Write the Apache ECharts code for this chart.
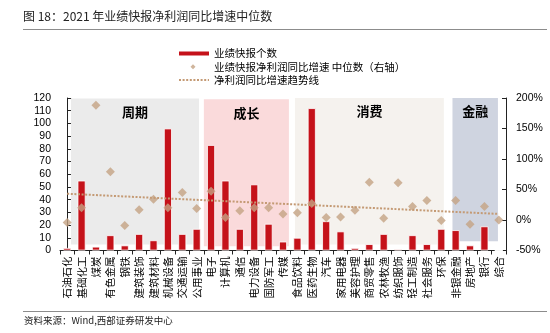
<!DOCTYPE html>
<html><head><meta charset="utf-8">
<script src="https://cdn.jsdelivr.net/npm/echarts@6/dist/echarts.min.js"></script>
<style>html,body{margin:0;padding:0;background:#fff}#c{width:550px;height:333px}</style>
</head><body><div id="c"></div>
<script>
const categories = ['石油石化','基础化工','煤炭','有色金属','钢铁','建筑装饰','建筑材料','机械设备','交通运输','公用事业','电子','计算机','通信','电力设备','国防军工','传媒','食品饮料','医药生物','汽车','家用电器','美容护理','商贸零售','农林牧渔','纺织服饰','轻工制造','社会服务','环保','非银金融','房地产','银行','综合'];
const counts = [2,55,3,12,4,13,8,96,13,17,83,55,17,52,21,7,10,112,23,15,2,5,13,1,12,5,17,16,4,19,0];
const medians = [-4,20,188,79,-9,17,34,20,45,19,47,4,15,20,20,10,12,27,4,5,16,62,3,61,22,32,-1,32,-7,22,0];
const trend = [[0,43],[30,10]];
const leftTicks = {min:0,max:120,interval:10};
const rightTicks = {min:-50,max:200,interval:50};
const bandNames = ['周期','成长','消费','金融'];
const bandX = [[0.26,9.16],[9.5,15.41],[15.83,26.18],[26.78,29.94]];
const bandY = [[-40,199],[-43,198],[-40,200],[-35,203]];
const bandColors = ['#ebebeb','#fadadb','#f5f2ee','rgba(0,26,92,0.19)'];

const seriesNames = ['业绩快报个数','业绩快报净利润同比增速 中位数（右轴）','净利润同比增速趋势线'];
const CJK = '"Noto Sans CJK SC","Noto Sans",sans-serif';

function band(i){
  return [{
    name: bandNames[i], xAxis: bandX[i][0], yAxis: bandY[i][0],
    itemStyle:{color: bandColors[i]},
    label:{show:true, position:'insideTop', distance:7, formatter: bandNames[i], color:'#000', fontSize:13, fontWeight:'bold', fontFamily:CJK}
  },{xAxis: bandX[i][1], yAxis: bandY[i][1]}];
}

const chart = echarts.init(document.getElementById('c'), null, {renderer:'canvas'});
chart.setOption({
  animation:false,
  backgroundColor:'#fff',
  graphic:[
    {type:'text', left:23, top:10, style:{text:'图 18：2021 年业绩快报净利润同比增速中位数', font:'12px '+CJK, fill:'#222'}},
    {type:'line', shape:{x1:23,y1:29.5,x2:547,y2:29.5}, style:{stroke:'#8c8c8c', lineWidth:1}},
    {type:'line', shape:{x1:23,y1:311.5,x2:547,y2:311.5}, style:{stroke:'#8c8c8c', lineWidth:1}},
    {type:'text', left:24, top:316, style:{text:'资料来源：Wind,西部证券研发中心', font:'9.5px '+CJK, fill:'#222'}}
  ],
  legend:{
    orient:'vertical', left:173, top:42.5, itemWidth:30, itemHeight:6, itemGap:1.2,
    textStyle:{fontSize:10.5, fontFamily:CJK, color:'#000', lineHeight:12},
    data:[
      {name:seriesNames[0], icon:'path://M0,0H30V4H0Z', itemStyle:{borderWidth:0}},
      {name:seriesNames[1], icon:'path://M0,0L0,0Z M30,6L30,6Z M14,0.5L16.5,3L14,5.5L11.5,3Z'},
      {name:seriesNames[2], itemStyle:{opacity:0}}
    ]
  },
  grid:{left:60, right:44, top:98, bottom:82.5, containLabel:false},
  xAxis:[{
    type:'category', data:categories, boundaryGap:true,
    axisLine:{lineStyle:{color:'#222', width:1}},
    axisTick:{show:true, inside:false, length:4, lineStyle:{color:'#222'}},
    axisLabel:{rotate:90, interval:0, fontSize:10.5, fontFamily:CJK, color:'#000', margin:6}
  },{
    type:'value', min:-0.5, max:30.5, show:false
  }],
  yAxis:[{
    type:'value', min:leftTicks.min, max:leftTicks.max, interval:leftTicks.interval,
    splitLine:{show:false},
    axisLine:{show:true, lineStyle:{color:'#222'}},
    axisTick:{show:true, inside:true, length:4, lineStyle:{color:'#222'}},
    axisLabel:{fontSize:10.5, fontFamily:'"Liberation Sans",Arial,sans-serif', color:'#000', margin:9}
  },{
    type:'value', min:rightTicks.min, max:rightTicks.max, interval:rightTicks.interval, position:'right',
    splitLine:{show:false},
    axisLine:{show:true, lineStyle:{color:'#222'}},
    axisTick:{show:true, inside:true, length:4, lineStyle:{color:'#222'}},
    axisLabel:{formatter:'{value}%', fontSize:10.5, fontFamily:'"Liberation Sans",Arial,sans-serif', color:'#000', margin:10}
  }],
  series:[
    {type:'line', name:'bandsBack', xAxisIndex:1, yAxisIndex:1, data:[], z:0, silent:true,
      markArea:{silent:true, data:[band(0),band(1),band(2)]}},
    {type:'bar', name:seriesNames[0], data:counts, barWidth:8, z:2,
      itemStyle:{color:'#c5121a', borderColor:'#fff', borderWidth:0.8}},
    {type:'scatter', name:seriesNames[1], yAxisIndex:1, data:medians, symbol:'diamond', symbolSize:9, z:3,
      itemStyle:{color:'#c4a383'}},
    {type:'line', name:seriesNames[2], xAxisIndex:1, yAxisIndex:1, data:trend, symbol:'none', z:4,
      lineStyle:{color:'#c49a74', width:2, type:[2,1.6]}, itemStyle:{color:'#c49a74'}},
    {type:'line', name:'bandFront', xAxisIndex:1, yAxisIndex:1, data:[], z:5, silent:true,
      markArea:{silent:true, data:[band(3)]}}
  ]
});
</script></body></html>
